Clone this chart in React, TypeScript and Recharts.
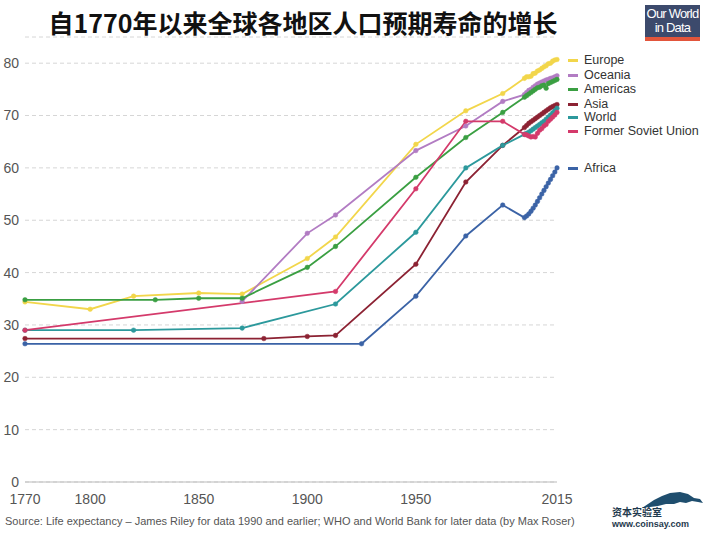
import React from "react";
import { LineChart, Line, XAxis, YAxis, CartesianGrid } from "recharts";

// 系列データ
const recentYears = [2000, 2001, 2002, 2003, 2004, 2005, 2006, 2007, 2008, 2009, 2010, 2011, 2012, 2013, 2014, 2015];

const europeYears = [1770, 1800, 1820, 1850, 1870, 1900, 1913, 1950, 1973, 1990, ...recentYears];
const europeValues = [34.4, 33.0, 35.5, 36.1, 35.9, 42.7, 46.8, 64.5, 70.9, 74.2,
  77.1, 77.4, 77.4, 77.5, 78.0, 78.1, 78.5, 78.7, 79.0, 79.3, 79.5, 79.9, 80.0, 80.4, 80.6, 80.7];

const oceaniaYears = [1870, 1900, 1913, 1950, 1973, 1990, ...recentYears];
const oceaniaValues = [34.5, 47.5, 51.0, 63.3, 68.0, 72.7,
  74.0, 74.4, 74.8, 75.0, 75.4, 75.7, 76.0, 76.2, 76.4, 76.6, 76.8, 76.9, 77.1, 77.2, 77.4, 77.6];

const americasYears = [1770, 1830, 1850, 1870, 1900, 1913, 1950, 1973, 1990, ...recentYears];
const americasValues = [34.8, 34.8, 35.1, 35.1, 41.0, 45.0, 58.2, 65.8, 70.6,
  73.5, 73.8, 74.1, 74.4, 74.7, 75.0, 75.3, 75.4, 75.7, 75.8, 75.2, 76.1, 76.3, 76.5, 76.7, 76.9];

const asiaYears = [1770, 1880, 1900, 1913, 1950, 1973, 1990, ...recentYears];
const asiaValues = [27.4, 27.4, 27.8, 28.0, 41.6, 57.3, 64.3,
  67.7, 68.1, 68.5, 68.8, 69.1, 69.4, 69.7, 70.0, 70.3, 70.6, 70.9, 71.2, 71.5, 71.7, 71.9, 72.1];

const worldYears = [1770, 1820, 1870, 1913, 1950, 1973, 1990, ...recentYears];
const worldValues = [29.0, 29.0, 29.4, 34.0, 47.7, 60.0, 64.3,
  66.4, 66.6, 66.8, 67.1, 67.4, 67.7, 68.0, 68.3, 68.6, 68.9, 69.3, 69.7, 70.1, 70.5, 70.9, 71.4];

const fsuYears = [1770, 1913, 1950, 1973, 1990, ...recentYears];
const fsuValues = [29.0, 36.4, 56.0, 68.9, 68.9,
  66.4, 66.3, 66.1, 65.9, 66.0, 65.9, 66.6, 67.2, 67.5, 68.0, 68.3, 68.9, 69.3, 69.7, 70.1, 70.6];

const africaYears = [1770, 1925, 1950, 1973, 1990, ...recentYears];
const africaValues = [26.4, 26.4, 35.5, 47.0, 52.9,
  50.5, 50.8, 51.2, 51.7, 52.3, 52.9, 53.6, 54.3, 55.0, 55.7, 56.4, 57.1, 57.8, 58.5, 59.2, 60.0];

const xTicks = [1770, 1800, 1850, 1900, 1950, 2015];
const yTicks = [0, 10, 20, 30, 40, 50, 60, 70, 80];

const toRows = (years: number[], values: number[]) =>
  years.map((year, i) => ({ year, value: values[i] }));

const series = [
  { name: "Europe", color: "#f2d64b", data: toRows(europeYears, europeValues) },
  { name: "Oceania", color: "#b27cc3", data: toRows(oceaniaYears, oceaniaValues) },
  { name: "Americas", color: "#3a9f42", data: toRows(americasYears, americasValues) },
  { name: "Asia", color: "#8c2233", data: toRows(asiaYears, asiaValues) },
  { name: "World", color: "#2c999c", data: toRows(worldYears, worldValues) },
  { name: "Former Soviet Union", color: "#d43a6b", data: toRows(fsuYears, fsuValues) },
  { name: "Africa", color: "#3b63a6", data: toRows(africaYears, africaValues) },
];

// 凡例の縦位置
const legendY: Record<string, number> = {
  Europe: 60,
  Oceania: 75,
  Americas: 89,
  Asia: 104,
  World: 117,
  "Former Soviet Union": 131,
  Africa: 168,
};

const FONT = "'Liberation Sans', Arial, sans-serif";

export default function App() {
  return (
    <div style={{ position: "absolute", left: 0, top: 0, width: 705, height: 533, background: "#fff", fontFamily: FONT }}>
      {/* タイトル */}
      <div
        style={{
          position: "absolute",
          left: 0,
          top: 5,
          width: 606,
          textAlign: "center",
          fontFamily: "'Noto Sans CJK SC', sans-serif",
          fontWeight: 700,
          fontSize: 25,
          color: "#111",
          lineHeight: "34px",
        }}
      >
        自1770年以来全球各地区人口预期寿命的增长
      </div>

      {/* ロゴ */}
      <div
        style={{
          position: "absolute",
          left: 645,
          top: 5,
          width: 55,
          height: 30,
          background: "#3c4a6c",
          borderBottom: "4px solid #e2553b",
          color: "#fff",
          fontSize: 13,
          lineHeight: "14px",
          textAlign: "center",
          letterSpacing: -0.8,
          paddingTop: 2,
        }}
      >
        Our World
        <br />
        in Data
      </div>

      <LineChart width={705} height={533} margin={{ top: 37, right: 148, bottom: 21, left: 0 }}>
        <CartesianGrid vertical={false} stroke="#d6d6d6" strokeDasharray="4 3" />
        <XAxis
          type="number"
          dataKey="year"
          domain={[1770, 2015]}
          ticks={xTicks}
          allowDuplicatedCategory={false}
          tickLine={false}
          axisLine={{ stroke: "#bbb" }}
          tickSize={0}
          tickMargin={12}
          height={30}
          tick={{ fill: "#555", fontSize: 14, fontFamily: FONT }}
        />
        <YAxis
          type="number"
          domain={[0, 85]}
          ticks={yTicks}
          width={25}
          tickLine={false}
          axisLine={false}
          tickSize={0}
          tickMargin={6}
          tick={{ fill: "#555", fontSize: 14, fontFamily: FONT }}
        />
        {series.map((s) => (
          <Line
            key={s.name}
            data={s.data}
            dataKey="value"
            name={s.name}
            type="linear"
            stroke={s.color}
            strokeWidth={1.8}
            dot={{ r: 2.3, fill: s.color, stroke: s.color, strokeWidth: 0.5 }}
            activeDot={false}
            isAnimationActive={false}
          />
        ))}
      </LineChart>

      {/* 凡例 */}
      {series.map((s) => (
        <div
          key={s.name}
          style={{
            position: "absolute",
            left: 568,
            top: legendY[s.name] - 6,
            height: 12,
            lineHeight: "12px",
            display: "flex",
            alignItems: "center",
            fontSize: 12.5,
            color: "#333",
            whiteSpace: "nowrap",
          }}
        >
          <span style={{ display: "inline-block", width: 10, height: 3, background: s.color, marginRight: 6 }} />
          {s.name}
        </div>
      ))}

      {/* 出典 */}
      <div style={{ position: "absolute", left: 5, top: 515, fontSize: 11, color: "#555", whiteSpace: "nowrap" }}>
        Source: Life expectancy – James Riley for data 1990 and earlier; WHO and World Bank for later data (by Max Roser)
      </div>

      {/* 透かし */}
      <svg style={{ position: "absolute", left: 640, top: 490 }} width={65} height={20}>
        <path
          d="M2 18 L14 10 L22 6 L30 3 L40 2 L48 4 L54 8 L60 9 L63 13 L58 12 L52 11 L46 13 L40 12 L34 14 L26 14 L18 16 Z"
          fill="#1f4e6e"
        />
      </svg>
      <div style={{ position: "absolute", left: 612, top: 506, fontSize: 10, fontWeight: 700, color: "#1f3a4e", fontFamily: "'Noto Sans CJK SC', sans-serif", lineHeight: "12px" }}>
        资本实验室
      </div>
      <div style={{ position: "absolute", left: 612, top: 519, fontSize: 9, fontWeight: 700, color: "#1f3a4e", lineHeight: "10px" }}>
        www.coinsay.com
      </div>
    </div>
  );
}
